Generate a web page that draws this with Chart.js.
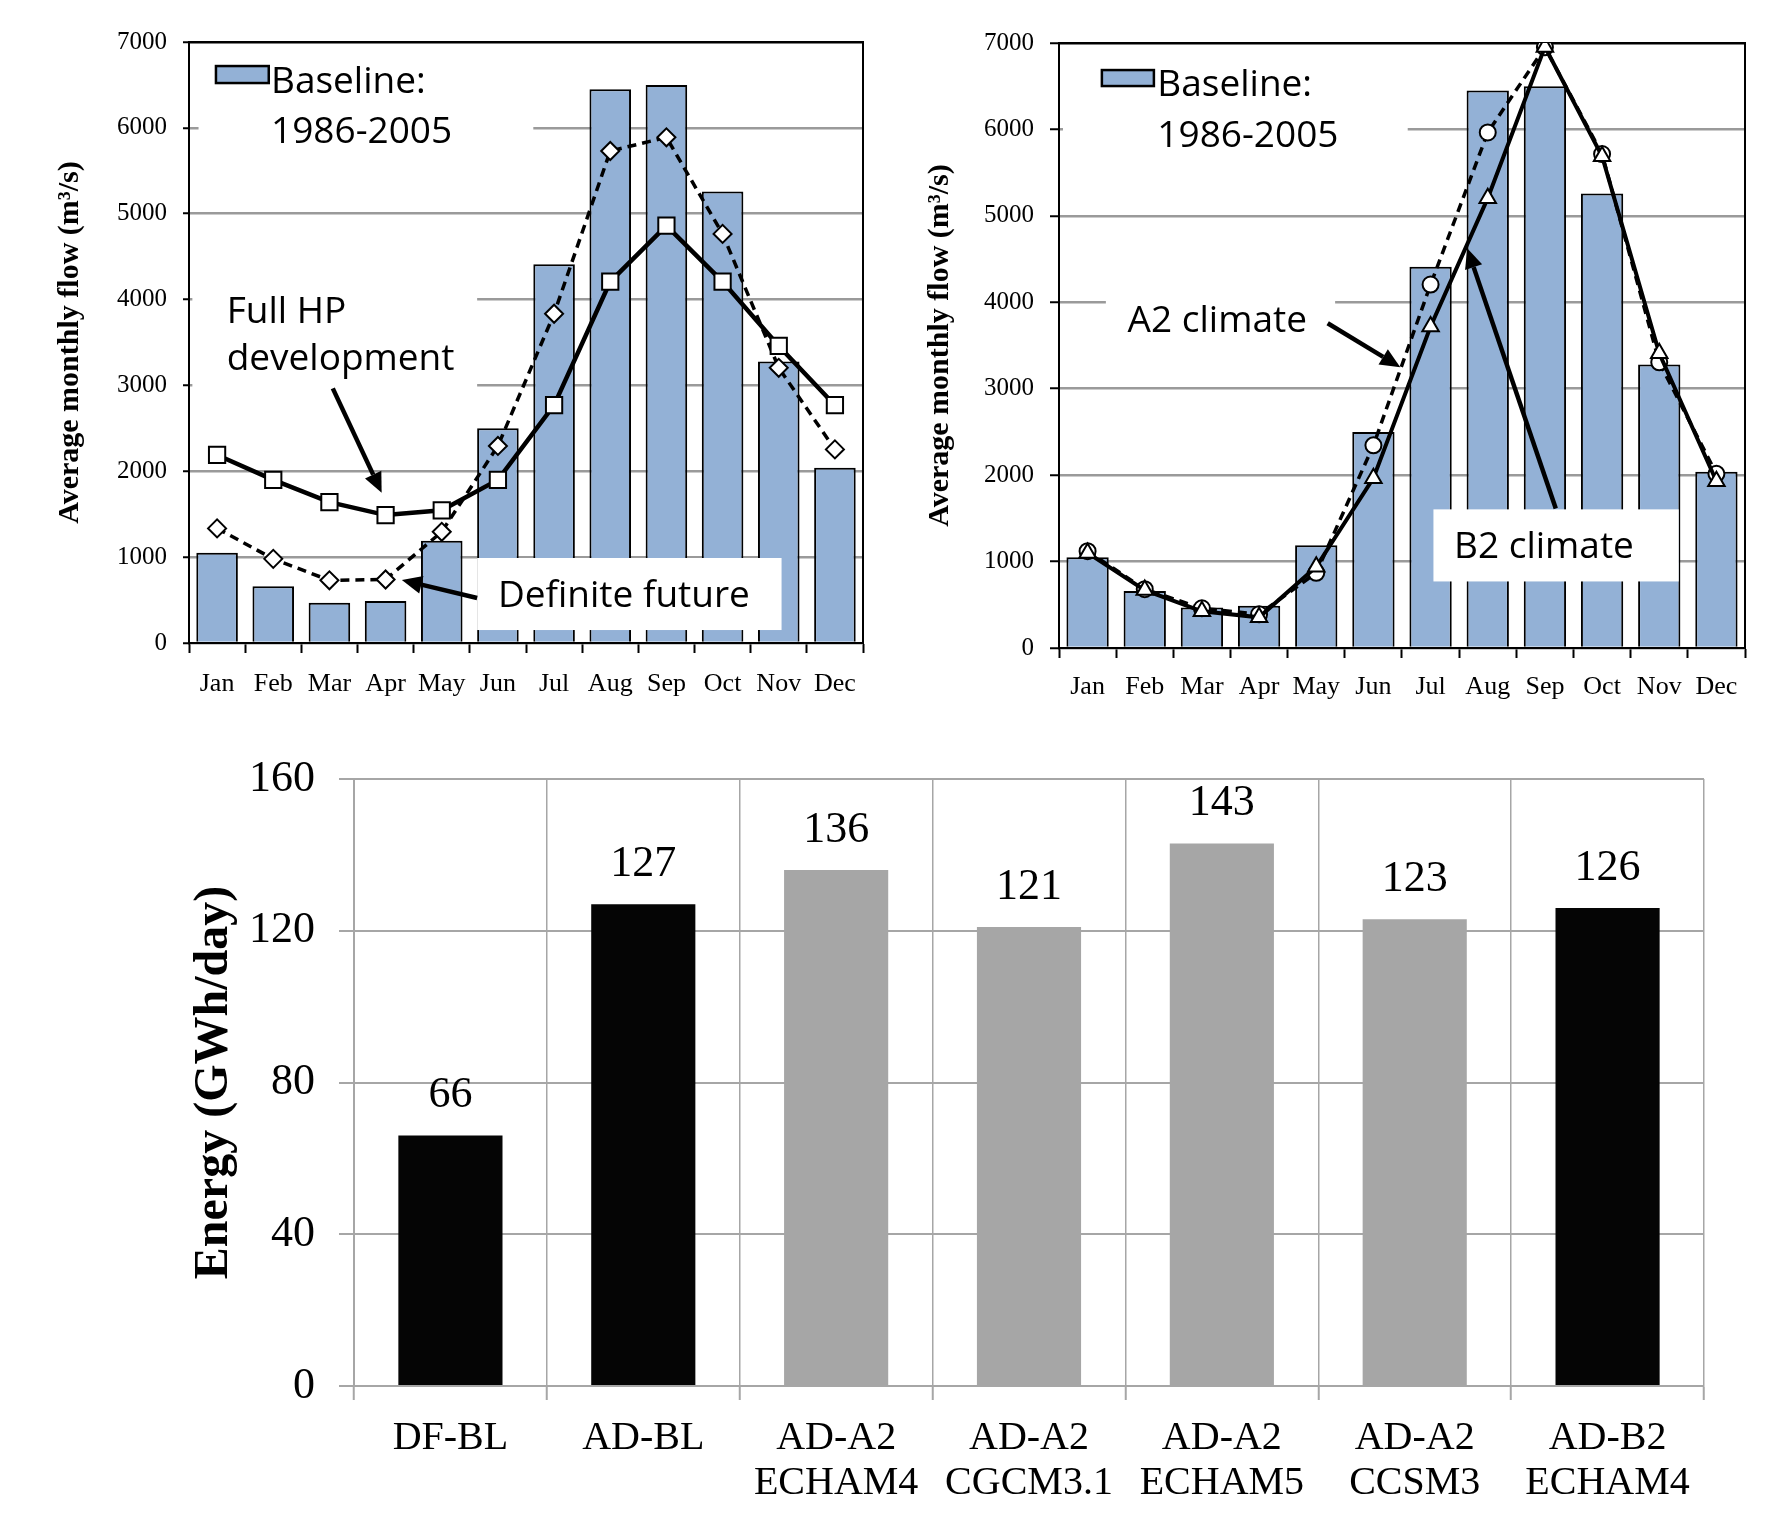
<!DOCTYPE html>
<html><head><meta charset="utf-8">
<script src="https://cdn.jsdelivr.net/npm/chart.js@4/dist/chart.umd.min.js"></script>
<style>
html,body{margin:0;padding:0;background:#fff;width:1775px;height:1526px;overflow:hidden;}
.box{position:absolute;}
canvas{display:block;}
</style></head><body>
<div class="box" style="left:0;top:0;width:900px;height:720px"><canvas id="c1" width="900" height="720"></canvas></div>
<div class="box" style="left:900px;top:0;width:875px;height:720px"><canvas id="c2" width="875" height="720"></canvas></div>
<div class="box" style="left:0;top:720px;width:1775px;height:806px"><canvas id="c3" width="1775" height="806"></canvas></div>
<script>
// ---------- DATA ----------
const months = ['Jan','Feb','Mar','Apr','May','Jun','Jul','Aug','Sep','Oct','Nov','Dec'];
const baselineFlow = [1050,660,470,490,1190,2500,4410,6450,6500,5260,3280,2040];
const fullHPFlow = [2190,1900,1640,1490,1545,1900,2770,4210,4860,4210,3460,2770];
const definiteFutureFlow = [1335,980,730,740,1295,2295,3835,5730,5890,4765,3205,2255];
const a2ClimateFlow = [1120,680,460,390,870,2345,4205,5965,6950,5715,3305,2015];
const b2ClimateFlow = [1100,670,425,355,940,1965,3720,5205,6955,5690,3410,1930];
const flowTicks = [0,1000,2000,3000,4000,5000,6000,7000];

const scenarios = [['DF-BL'],['AD-BL'],['AD-A2','ECHAM4'],['AD-A2','CGCM3.1'],['AD-A2','ECHAM5'],['AD-A2','CCSM3'],['AD-B2','ECHAM4']];
const energy = [66,127,136,121,143,123,126];
const energyTicks = [0,40,80,120,160];

// ---------- STYLE ----------
const SERIF = 'Liberation Serif, Times New Roman, serif';
const SANS = 'Open Sans, Lato, sans-serif';
const BAR_BLUE = '#93b1d6';
const GRID_GRAY = '#9a9a9a';

function arrow(ctx, x1, y1, x2, y2, w, head, half) {
  const a = Math.atan2(y2 - y1, x2 - x1);
  const bx = x2 - head * Math.cos(a), by = y2 - head * Math.sin(a);
  ctx.strokeStyle = '#000'; ctx.fillStyle = '#000'; ctx.lineWidth = w; ctx.lineCap = 'butt';
  ctx.beginPath(); ctx.moveTo(x1, y1); ctx.lineTo(bx, by); ctx.stroke();
  ctx.beginPath(); ctx.moveTo(x2, y2);
  ctx.lineTo(bx + half * Math.sin(a), by - half * Math.cos(a));
  ctx.lineTo(bx - half * Math.sin(a), by + half * Math.cos(a));
  ctx.closePath(); ctx.fill();
}

function makeNotes(cfg) {
  return {
    id: 'notes',
    afterDatasetsDraw(chart) {
      const ctx = chart.ctx, xs = chart.scales.x, ys = chart.scales.y;
      const px = i => xs.getPixelForValue(i), py = v => ys.getPixelForValue(v);
      ctx.save();
      cfg.boxes.forEach(b => {
        const x1 = px(b.x0), x2 = px(b.x1), y1 = py(b.y0), y2 = py(b.y1);
        ctx.fillStyle = '#fff'; ctx.fillRect(x1, y1, x2 - x1, y2 - y1);
      });
      cfg.swatches.forEach(s => {
        const x1 = px(s.x0), x2 = px(s.x1), y1 = py(s.y0), y2 = py(s.y1);
        ctx.fillStyle = BAR_BLUE; ctx.fillRect(x1, y1, x2 - x1, y2 - y1);
        ctx.strokeStyle = '#000'; ctx.lineWidth = 2.5; ctx.strokeRect(x1, y1, x2 - x1, y2 - y1);
      });
      cfg.texts.forEach(t => {
        ctx.font = '37px ' + SANS; ctx.fillStyle = '#000';
        ctx.textAlign = 'left'; ctx.textBaseline = 'alphabetic';
        t.lines.forEach((ln, k) => ctx.fillText(ln, px(t.x), py(t.y) + k * t.gap));
      });
      cfg.arrows.forEach(a => arrow(ctx, px(a.x0), py(a.y0), px(a.x1), py(a.y1), 4.5, 20, 9));
      ctx.restore();
    }
  };
}

const framePlugin = {
  id: 'frame',
  beforeDatasetsDraw(chart) {
    const {ctx, chartArea: ca} = chart;
    ctx.save(); ctx.strokeStyle = '#000'; ctx.lineWidth = 2;
    ctx.beginPath(); ctx.moveTo(ca.left, ca.top); ctx.lineTo(ca.right, ca.top); ctx.lineTo(ca.right, ca.bottom); ctx.stroke();
    ctx.restore();
  }
};

function flowChart(id, lineSets, layoutPad, yWidth, yTick, titlePad, xPad, notes) {
  return new Chart(document.getElementById(id), {
    data: {
      labels: months,
      datasets: lineSets.concat([{
        type: 'bar', label: 'Baseline: 1986-2005', data: baselineFlow,
        backgroundColor: BAR_BLUE, borderColor: '#000', borderWidth: 2,
        barPercentage: 0.74, categoryPercentage: 1.0, order: 3
      }])
    },
    options: {
      responsive: false, animation: false,
      layout: {padding: layoutPad},
      plugins: {legend: {display: false}, tooltip: {enabled: false}},
      scales: {
        x: {
          type: 'category', offset: true,
          grid: {display: true, offset: true, drawOnChartArea: false, drawTicks: true, tickLength: 10, tickColor: '#000', tickWidth: 2},
          border: {display: true, color: '#000', width: 2},
          ticks: {font: {family: SERIF, size: 26}, color: '#000', padding: xPad, maxRotation: 0, autoSkip: false},
          afterFit: s => { s.height = 60; }
        },
        y: {
          type: 'linear', min: 0, max: 7000,
          afterBuildTicks: s => { s.ticks = flowTicks.map(v => ({value: v})); },
          grid: {color: c => (c.tick && c.tick.value === 7000) ? '#000' : GRID_GRAY, lineWidth: 2.5, tickColor: '#000', tickLength: yTick, tickWidth: 2},
          border: {display: true, color: '#000', width: 2},
          ticks: {font: {family: SERIF, size: 25}, color: '#000', padding: 16, callback: v => String(v)},
          title: {display: true, text: 'Average monthly flow (m³/s)', color: '#000',
                  font: {family: SERIF, size: 30, weight: 'bold'}, padding: {top: titlePad, bottom: 0}},
          afterFit: s => { s.width = yWidth; }
        }
      }
    },
    plugins: [framePlugin, makeNotes(notes)]
  });
}

// Chart 1: definite future vs full HP development
flowChart('c1', [
  {type: 'line', label: 'Full HP development', data: fullHPFlow, borderColor: '#000', borderWidth: 4.5,
   pointStyle: 'rect', pointRadius: 11.5, pointBackgroundColor: '#fff', pointBorderColor: '#000', pointBorderWidth: 2, tension: 0, order: 1},
  {type: 'line', label: 'Definite future', data: definiteFutureFlow, borderColor: '#000', borderWidth: 3.5, borderDash: [9, 6],
   pointStyle: 'rectRot', pointRadius: 9, pointBackgroundColor: '#fff', pointBorderColor: '#000', pointBorderWidth: 2, tension: 0, order: 2}
], {left: 0, top: 42, right: 37, bottom: 17}, 189, 6, 52, 16, {
  boxes: [
    {x0: -0.33, x1: 5.63, y0: 6960, y1: 5620},
    {x0: -0.44, x1: 4.63, y0: 4170, y1: 2830},
    {x0: 4.63, x1: 10.05, y0: 990, y1: 151}
  ],
  swatches: [{x0: -0.02, x1: 0.92, y0: 6720, y1: 6522}],
  texts: [
    {lines: ['Baseline:', '1986-2005'], x: 0.96, y: 6406, gap: 50},
    {lines: ['Full HP', 'development'], x: 0.17, y: 3727, gap: 47},
    {lines: ['Definite future'], x: 5.0, y: 419, gap: 0}
  ],
  arrows: [
    {x0: 2.06, y0: 2966, x1: 2.93, y1: 1750},
    {x0: 4.63, y0: 524, x1: 3.29, y1: 734}
  ]
});

// Chart 2: A2 vs B2 climate
flowChart('c2', [
  {type: 'line', label: 'B2 climate', data: b2ClimateFlow, borderColor: '#000', borderWidth: 4,
   pointStyle: 'triangle', pointRadius: 9.5, pointBackgroundColor: '#fff', pointBorderColor: '#000', pointBorderWidth: 2, tension: 0, order: 1},
  {type: 'line', label: 'A2 climate', data: a2ClimateFlow, borderColor: '#000', borderWidth: 3.5, borderDash: [9, 6],
   pointStyle: 'circle', pointRadius: 8, pointBackgroundColor: '#fff', pointBorderColor: '#000', pointBorderWidth: 2, tension: 0, order: 2}
], {left: 0, top: 43, right: 30, bottom: 12}, 159, 9, 22, 14, {
  boxes: [
    {x0: -0.43, x1: 5.60, y0: 6942, y1: 5645},
    {x0: 0.32, x1: 4.33, y0: 4140, y1: 3213},
    {x0: 6.05, x1: 10.34, y0: 1604, y1: 770}
  ],
  swatches: [{x0: 0.25, x1: 1.16, y0: 6687, y1: 6502}],
  texts: [
    {lines: ['Baseline:', '1986-2005'], x: 1.22, y: 6386, gap: 51},
    {lines: ['A2 climate'], x: 0.70, y: 3653, gap: 0},
    {lines: ['B2 climate'], x: 6.41, y: 1036, gap: 0}
  ],
  arrows: [
    {x0: 4.20, y0: 3757, x1: 5.47, y1: 3248},
    {x0: 8.19, y0: 1615, x1: 6.64, y1: 4626}
  ]
});

// Chart 3: energy
const valueLabels = {
  id: 'valueLabels',
  afterDatasetsDraw(chart) {
    const ctx = chart.ctx, meta = chart.getDatasetMeta(0);
    ctx.save();
    ctx.font = '44px ' + SERIF; ctx.fillStyle = '#000'; ctx.textAlign = 'center'; ctx.textBaseline = 'middle';
    meta.data.forEach((bar, i) => ctx.fillText(String(energy[i]), bar.x, bar.y - 40));
    ctx.restore();
  }
};
const energyColors = ['#050505', '#050505', '#a6a6a6', '#a6a6a6', '#a6a6a6', '#a6a6a6', '#050505'];
new Chart(document.getElementById('c3'), {
  type: 'bar',
  data: {labels: scenarios, datasets: [{label: 'Energy', data: energy, backgroundColor: energyColors, borderWidth: 0,
    barPercentage: 0.54, categoryPercentage: 1.0}]},
  options: {
    responsive: false, animation: false,
    layout: {padding: {left: 0, top: 59, right: 71, bottom: 10}},
    plugins: {legend: {display: false}, tooltip: {enabled: false}},
    scales: {
      x: {
        type: 'category', offset: true,
        grid: {display: true, offset: true, drawOnChartArea: true, color: '#a6a6a6', lineWidth: 1.5, tickLength: 14, tickColor: '#a6a6a6', tickWidth: 2},
        border: {display: true, color: '#a6a6a6', width: 2},
        ticks: {font: {family: SERIF, size: 40, lineHeight: 1.13}, color: '#000', padding: 16, maxRotation: 0, autoSkip: false},
        afterFit: s => { s.height = 130; }
      },
      y: {
        type: 'linear', min: 0, max: 160,
        afterBuildTicks: s => { s.ticks = energyTicks.map(v => ({value: v})); },
        grid: {color: '#a6a6a6', lineWidth: 2, tickLength: 15, tickColor: '#a6a6a6', tickWidth: 2},
        border: {display: true, color: '#a6a6a6', width: 2},
        ticks: {font: {family: SERIF, size: 44}, color: '#000', padding: 24, callback: v => String(v)},
        title: {display: true, text: 'Energy (GWh/day)', color: '#000',
                font: {family: SERIF, size: 48, weight: 'bold'}, padding: {top: 186, bottom: 0}},
        afterFit: s => { s.width = 354; }
      }
    }
  },
  plugins: [valueLabels]
});
</script>
</body></html>
